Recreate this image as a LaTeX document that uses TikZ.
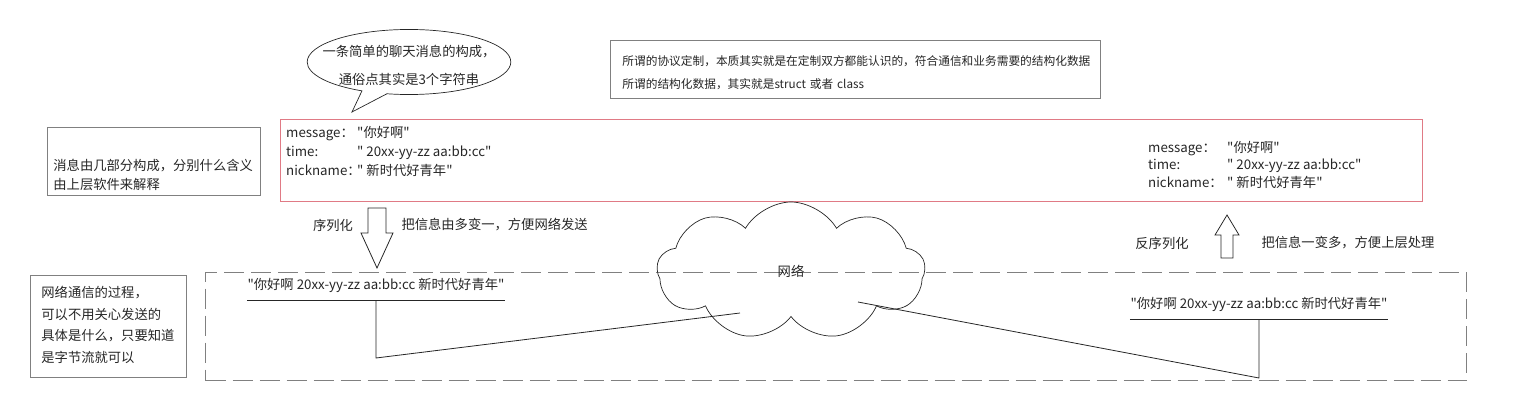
\documentclass[tikz,border=0pt]{standalone}
\usepackage{xcolor}
\usepackage{fontspec}
\newfontfamily\cjk{Noto Sans CJK SC}
\usepackage{tikz}
\usetikzlibrary{positioning,shapes.symbols,shapes.callouts}
\definecolor{ink}{HTML}{262626}
\definecolor{frame}{HTML}{808080}
\definecolor{rosy}{HTML}{E07A85}

\begin{document}
\begin{tikzpicture}[x=1pt,y=-1pt,
	every node/.style={text=ink,font=\cjk\fontsize{13.3}{19}\selectfont},
	notebox/.style={draw=frame,line width=0.8pt,align=left,anchor=north west,inner ysep=0pt},
	wire/.style={draw=ink,line width=0.8pt},
	hollow/.style={draw=ink,line width=0.8pt,fill=white},
	netbox/.style={draw=frame,line width=1.1pt,dash pattern=on 20pt off 7pt},
	bytes/.style={inner xsep=0pt,inner ysep=7pt,text height=10pt,text depth=4pt}]
	\useasboundingbox (0,0) rectangle (1514,414);
	\node[netbox,minimum width=1261pt,minimum height=108pt,anchor=north west,inner sep=0pt] (link) at (205,272) {};
	\node[draw=rosy,line width=0.8pt,minimum width=1142pt,minimum height=82pt,anchor=north west,inner sep=0pt] (msg) at (280,119) {};
	\node[draw=ink,line width=0.7pt,ellipse callout,callout absolute pointer={(352,112)},inner sep=0pt,text width=144pt,text height=18pt,text depth=28pt,align=center,font=\cjk\fontsize{13.3}{28}\selectfont] (talk) at (409,62) {\makebox[144pt]{一条简单的聊天消息的构成，}\\\makebox[144pt]{通俗点其实是3个字符串}};
	\node[notebox,text width=466pt,inner xsep=12pt,text height=25pt,text depth=33pt,font=\cjk\fontsize{11.7}{23}\selectfont] (proto) at (610,40) {所谓的协议定制，本质其实就是在定制双方都能认识的，符合通信和业务需要的结构化数据\\所谓的结构化数据，其实就是struct 或者 class};
	\node[notebox,text width=201pt,inner xsep=6pt,text height=43pt,text depth=25pt] (parts) at (47,127) {消息由几部分构成，分别什么含义\\由上层软件来解释};
	\node[notebox,text width=134pt,inner xsep=11pt,text height=22pt,text depth=80pt,font=\cjk\fontsize{13.3}{21.7}\selectfont] (stream) at (30,275) {网络通信的过程，\\可以不用关心发送的\\具体是什么，只要知道\\是字节流就可以};
	\node[anchor=west,align=left,inner sep=0pt] (fieldsL) at (286,151) {\makebox[71pt][l]{message：}"你好啊"\\\makebox[71pt][l]{time:}" 20xx-yy-zz aa:bb:cc"\\\makebox[71pt][l]{nickname：}" 新时代好青年"};
	\node[anchor=west,align=left,inner sep=0pt,font=\cjk\fontsize{13.3}{17.5}\selectfont] (fieldsR) at (1148,164.5) {\makebox[79pt][l]{message：}"你好啊"\\\makebox[79pt][l]{time:}" 20xx-yy-zz aa:bb:cc"\\\makebox[79pt][l]{nickname：}" 新时代好青年"};
	\draw[hollow] (368,208) -- (386,208) -- (386,233) -- (393,233) -- (377,268) -- (361,233) -- (368,233) -- cycle;
	\node (ser) at (333,225) {序列化};
	\node[anchor=west] (serinfo) at (398,225) {把信息由多变一，方便网络发送};
	\draw[hollow] (1221,258) -- (1233,258) -- (1233,235) -- (1239,235) -- (1227,215) -- (1215,235) -- (1221,235) -- cycle;
	\node (deser) at (1162,243) {反序列化};
	\node[anchor=west] (deserinfo) at (1258,243) {把信息一变多，方便上层处理};
	\node[draw=ink,line width=0.7pt,cloud,cloud puffs=9,cloud puff arc=120,minimum width=268pt,minimum height=138pt,inner sep=0pt] (net) at (791,271) {网络};
	\node[bytes] (strL) at (376,286) {\makebox[258pt]{"你好啊 20xx-yy-zz aa:bb:cc 新时代好青年"}};
	\node[bytes] (strR) at (1259,305) {\makebox[258pt]{"你好啊 20xx-yy-zz aa:bb:cc 新时代好青年"}};
	\coordinate (kneeL) at (376,358);
	\coordinate (kneeR) at (1259,378);
	\coordinate (inL) at (740,313);
	\coordinate (inR) at (858,302);
	\draw[wire] (strL.south west) -- (strL.south east);
	\draw[wire] (strR.south west) -- (strR.south east);
	\draw[wire] (strL.south) -- (kneeL) -- (inL);
	\draw[wire] (strR.south) -- (kneeR) -- (inR);
\end{tikzpicture}
\end{document}
